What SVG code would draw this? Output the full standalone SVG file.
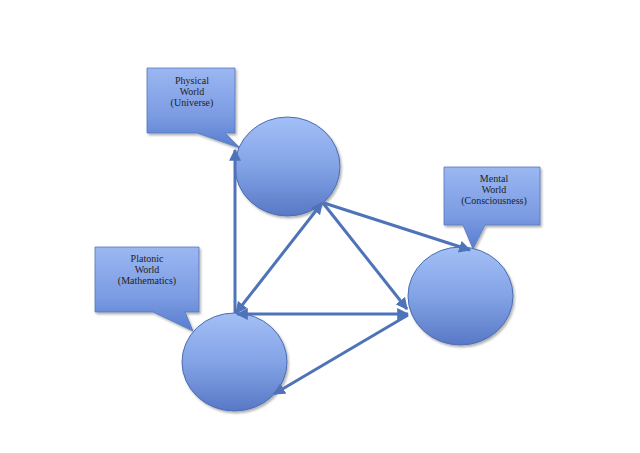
<svg xmlns="http://www.w3.org/2000/svg" width="640" height="453" viewBox="0 0 640 453">
<defs>
<linearGradient id="gc" x1="0" y1="0" x2="0" y2="1">
<stop offset="0" stop-color="#a3bff6"/>
<stop offset="0.5" stop-color="#83a3e6"/>
<stop offset="1" stop-color="#5878c6"/>
</linearGradient>
<linearGradient id="gb" x1="0" y1="0" x2="0" y2="1">
<stop offset="0" stop-color="#9bb7f2"/>
<stop offset="0.6" stop-color="#7b9be2"/>
<stop offset="1" stop-color="#587dd0"/>
</linearGradient>
<filter id="sh" x="-20%" y="-20%" width="140%" height="140%">
<feDropShadow dx="1.5" dy="2" stdDeviation="1.2" flood-color="#000" flood-opacity="0.3"/>
</filter>
<marker id="ah" viewBox="0 0 10 10" refX="9" refY="5" markerWidth="4" markerHeight="4" orient="auto-start-reverse" markerUnits="strokeWidth">
<path d="M0,0 L10,5 L0,10 Z" fill="#4f73b8"/>
</marker>
<style>
.node{fill:url(#gc);stroke:#4a6db0;stroke-width:1;filter:url(#sh)}
.call{fill:url(#gb);stroke:#5577b8;stroke-width:0.8;filter:url(#sh)}
.lbl{font-family:"Liberation Serif",serif;font-size:10px;fill:#222;text-anchor:middle}
.c{stroke:#4f73b8;stroke-width:3;fill:none}
</style>
</defs>
<rect width="640" height="453" fill="#fff"/>
<g id="physical-callout">
<path class="call" d="M147,68 H235 V133 H225 L240,148 L197,133 H147 Z"/>
<text class="lbl" x="192" y="84">Physical</text>
<text class="lbl" x="192" y="95">World</text>
<text class="lbl" x="192" y="106">(Universe)</text>
</g>
<g id="mental-callout">
<path class="call" d="M444,167 H540 V225 H485 L473,249 L463,225 H444 Z"/>
<text class="lbl" x="494" y="182">Mental</text>
<text class="lbl" x="494" y="193">World</text>
<text class="lbl" x="494" y="204">(Consciousness)</text>
</g>
<g id="platonic-callout">
<path class="call" d="M95,247 H199 V312 H185 L193,331 L153,312 H95 Z"/>
<text class="lbl" x="147" y="262">Platonic</text>
<text class="lbl" x="147" y="273">World</text>
<text class="lbl" x="147" y="284">(Mathematics)</text>
</g>
<g id="physical">
<ellipse class="node" cx="287.5" cy="166.5" rx="52.5" ry="49.5"/>
</g>
<g id="mental">
<ellipse class="node" cx="460.5" cy="296" rx="52.5" ry="49"/>
</g>
<g id="platonic">
<ellipse class="node" cx="234.5" cy="362" rx="52.5" ry="49"/>
</g>
<g id="connectors">
<line class="c" x1="235" y1="313" x2="235" y2="150" marker-end="url(#ah)"/>
<line class="c" x1="236" y1="313" x2="322" y2="203" marker-start="url(#ah)" marker-end="url(#ah)"/>
<line class="c" x1="323" y1="203" x2="407" y2="309" marker-end="url(#ah)"/>
<line class="c" x1="408" y1="314" x2="237" y2="314" marker-start="url(#ah)" marker-end="url(#ah)"/>
<line class="c" x1="324" y1="203" x2="470" y2="250" marker-end="url(#ah)"/>
<line class="c" x1="408" y1="315" x2="274" y2="394" marker-end="url(#ah)"/>
</g>
</svg>
